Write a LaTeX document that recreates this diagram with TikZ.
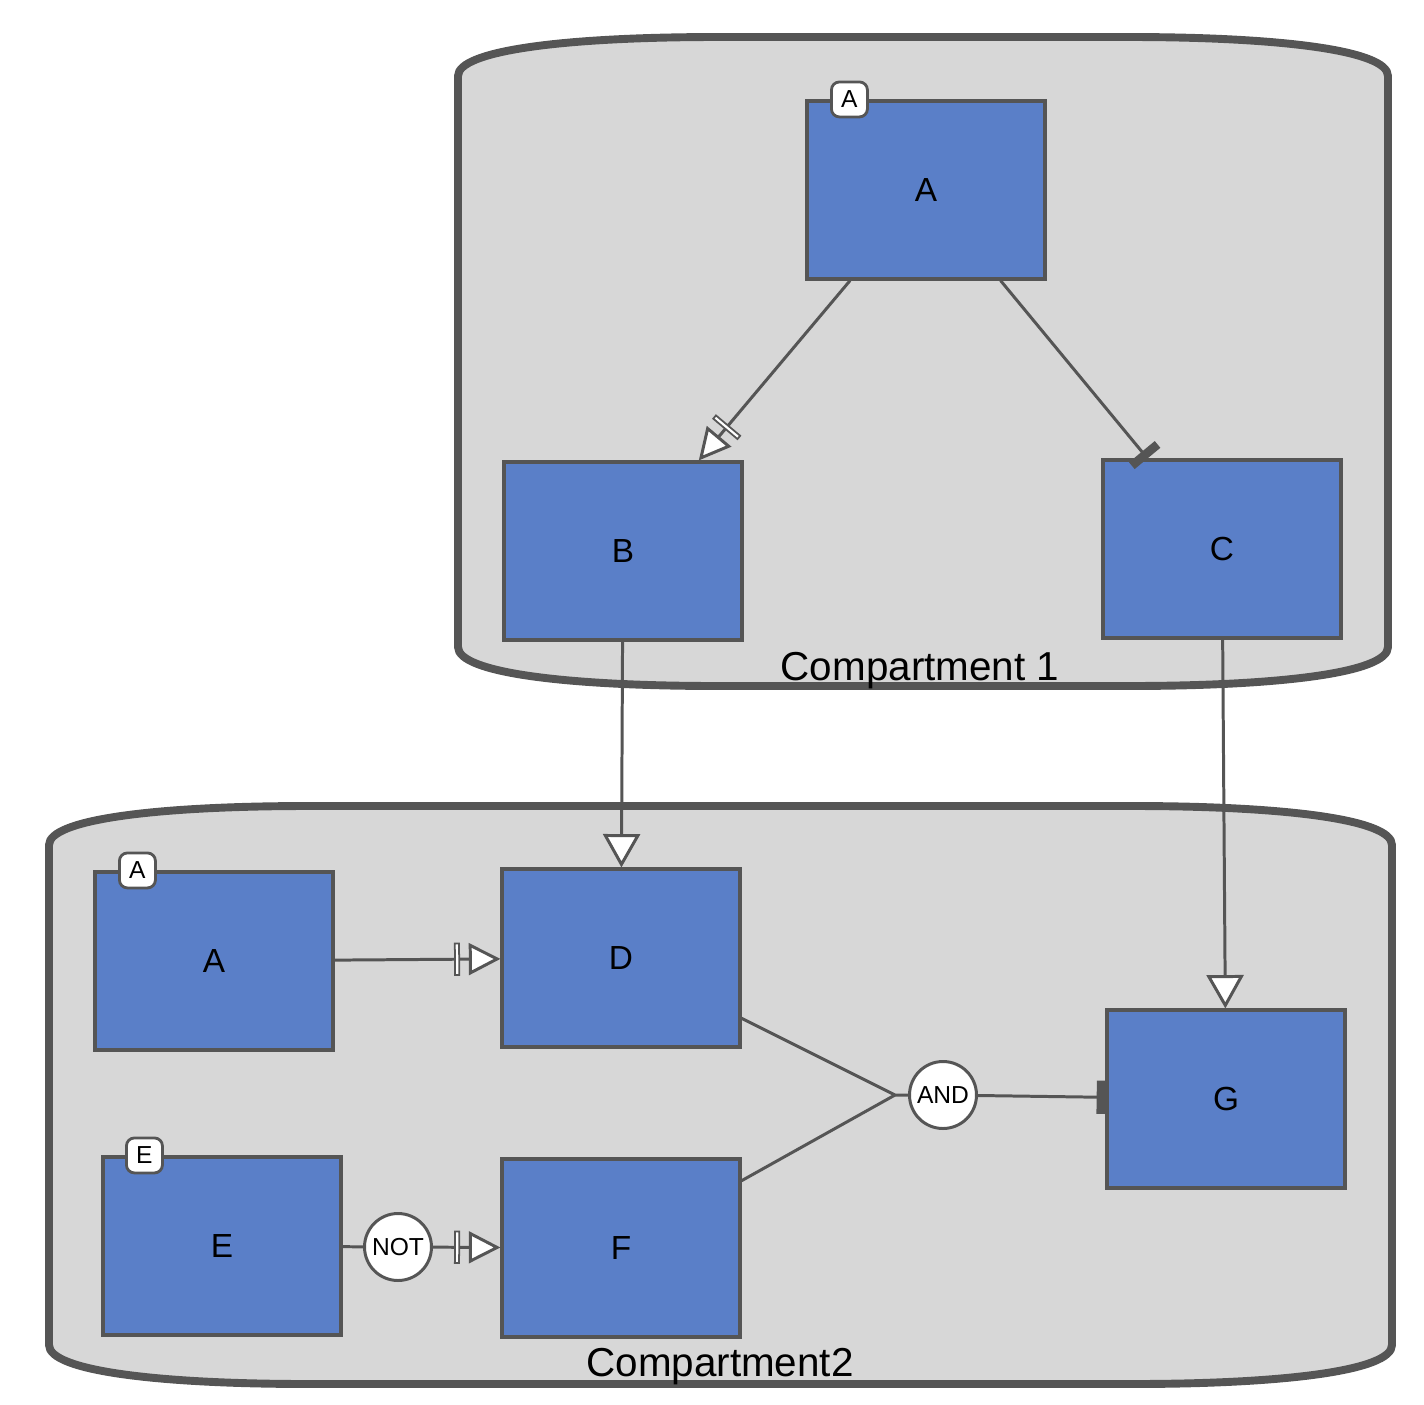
\documentclass[tikz,border=0pt]{standalone}
\usepackage{fontspec}
\setmainfont{Liberation Sans}
\usepackage{xcolor}
\usepackage{tikz}
\usetikzlibrary{arrows.meta,positioning,calc}
\definecolor{edgegray}{HTML}{555555}
\definecolor{compfill}{HTML}{D7D7D7}
\definecolor{macroblue}{HTML}{5A7FC8}
\tikzstyle{macro} = [rectangle, draw=edgegray, line width=1.8pt, fill=macroblue, minimum width=4.76cm, minimum height=3.56cm, font=\fontsize{19}{22}\selectfont]
\tikzstyle{clone} = [rectangle, rounded corners=0.16cm, draw=edgegray, line width=1.6pt, fill=white, minimum width=0.72cm, minimum height=0.7cm, inner sep=0pt, font=\fontsize{14}{16}\selectfont]

\begin{document}
\begin{tikzpicture}[x=0.02cm, y=-0.02cm]
    \tikzstyle{compartment} = [draw=edgegray, fill=compfill, line width=4.5pt]
    \tikzstyle{logic} = [circle, draw=edgegray, line width=1.7pt, fill=white, minimum size=1.34cm, inner sep=0pt, font=\fontsize{14}{16}\selectfont]
    \tikzstyle{link} = [draw=edgegray, line width=1.7pt]
    \tikzstyle{stim} = [-{Triangle[open, fill=white, length=19pt, width=21pt]}]
    \tikzstyle{necstim} = [-{Rectangle[open, fill=white, length=3.4pt, width=19pt, line width=1pt, sep=5pt] Triangle[open, fill=white, length=18pt, width=18pt]}]
    \tikzstyle{inhib} = [-{Rectangle[length=5pt, width=19pt]}]
    \useasboundingbox (0,0) rectangle (1424,1404);
    % compartments
    \draw[compartment] (458,76) .. controls (458,50) and (568,37) .. (718,37) -- (1128,37)
        .. controls (1278,37) and (1388,50) .. (1388,76) -- (1388,647)
        .. controls (1388,673) and (1278,686) .. (1128,686) -- (718,686)
        .. controls (568,686) and (458,673) .. (458,647) -- cycle;
    \draw[compartment] (49,845) .. controls (49,819) and (159,806) .. (309,806) -- (1132,806)
        .. controls (1282,806) and (1392,819) .. (1392,845) -- (1392,1345)
        .. controls (1392,1371) and (1282,1384) .. (1132,1384) -- (309,1384)
        .. controls (159,1384) and (49,1371) .. (49,1345) -- cycle;
    \node[font=\fontsize{23}{26}\selectfont, anchor=base] (comp1) at (920,680) {Compartment 1};
    \node[font=\fontsize{23}{26}\selectfont, anchor=base] (comp2) at (720,1376) {Compartment2};
    % macromolecules
    \node[macro] (A1) at (926,190) {A};
    \node[macro] (B) at (623,551) {B};
    \node[macro] (C) at (1222,549) {C};
    \node[macro] (A2) at (214,961) {A};
    \node[macro] (D) at (621,958) {D};
    \node[macro] (E) at (222,1246) {E};
    \node[macro] (F) at (621,1248) {F};
    \node[macro] (G) at (1226,1099) {G};
    \node[clone] (A1clone) at ([xshift=0.88cm]A1.north west) {A};
    \node[clone] (A2clone) at ([xshift=0.88cm]A2.north west) {A};
    \node[clone] (Eclone) at ([xshift=0.86cm]E.north west) {E};
    % logic
    \node[logic] (not) at (398,1247) {NOT};
    \node[logic] (and) at (943,1095) {AND};
    \coordinate (andin) at (895,1095);
    % arcs
    \draw[link, necstim] (A1) -- (B);
    \draw[link, inhib] (A1) -- (C);
    \draw[link, stim] (B) -- (D);
    \draw[link, stim] (C) -- (G);
    \draw[link, necstim] (A2) -- (D);
    \draw[link] (E) -- (not);
    \draw[link, necstim] (not) -- (F);
    \draw[link] (D) -- (andin) -- (and);
    \draw[link] (F) -- (andin);
    \draw[link, inhib] (and) -- (G);
\end{tikzpicture}
\end{document}
